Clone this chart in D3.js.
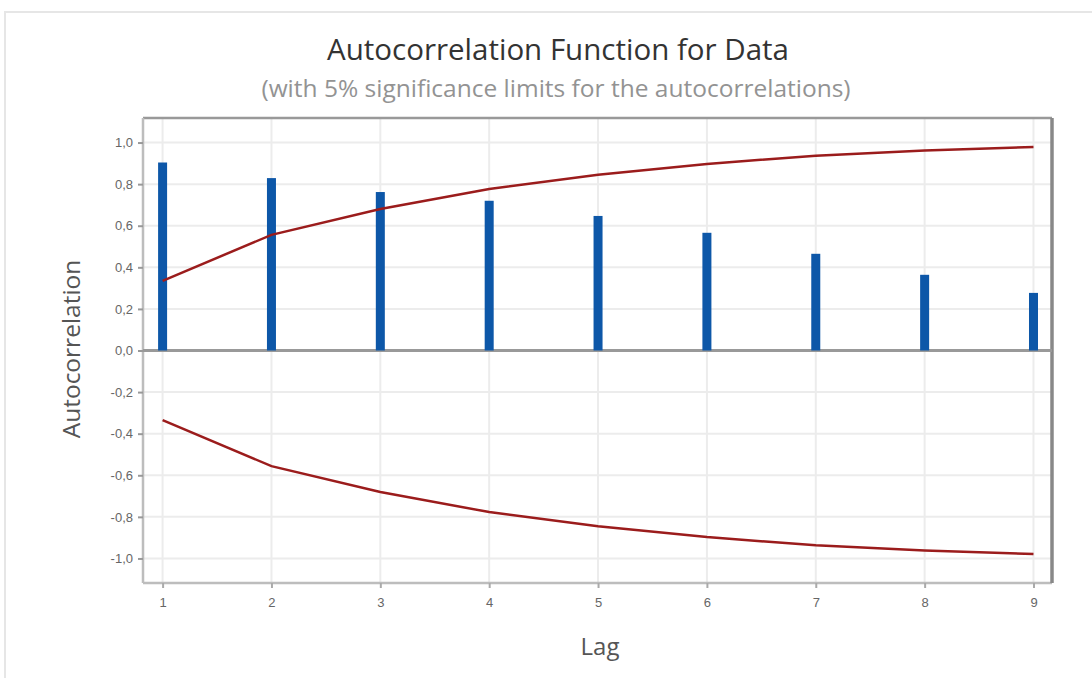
<!DOCTYPE html>
<html>
<head>
<meta charset="utf-8">
<script src="https://cdn.jsdelivr.net/npm/d3@7"></script>
<style>
  body { margin: 0; background: #fff; }
  svg { display: block; font-family: "Open Sans", "Noto Sans", sans-serif; }
</style>
</head>
<body>
<div id="acf"></div>
<script>
'use strict'

// lags and autocorrelations
const lags = [1, 2, 3, 4, 5, 6, 7, 8, 9];
const acf = [0.904, 0.829, 0.762, 0.72, 0.647, 0.566, 0.465, 0.364, 0.277];
// upper 5% significance limit (lower one is the negative)
const limits = [0.335, 0.556, 0.68, 0.777, 0.845, 0.897, 0.937, 0.962, 0.979];
const yTicks = [-1.0, -0.8, -0.6, -0.4, -0.2, 0.0, 0.2, 0.4, 0.6, 0.8, 1.0];

const width = 1092, height = 678;
const margin = { top: 118, right: 40, bottom: 95, left: 143 };
const w = width - margin.left - margin.right;
const h = height - margin.top - margin.bottom;

const svg = d3.select('#acf').append('svg')
  .attr('width', width)
  .attr('height', height);

// outer panel border
svg.append('rect')
  .attr('x', 5).attr('y', 12)
  .attr('width', width + 10).attr('height', height + 10)
  .attr('fill', 'none')
  .attr('stroke', '#e6e6e6')
  .attr('stroke-width', 2);

const x = d3.scaleLinear().domain([0.82, 9.17]).range([0, w]);
const y = d3.scaleLinear().domain([-1.118, 1.118]).range([h, 0]);

const g = svg.append('g').attr('transform', `translate(${margin.left},${margin.top})`);

// grid
g.append('g').selectAll('line')
  .data(yTicks.filter(d => d !== 0))
  .join('line')
  .attr('x1', 0).attr('x2', w)
  .attr('y1', d => y(d)).attr('y2', d => y(d))
  .attr('stroke', '#ececec').attr('stroke-width', 2);

g.append('g').selectAll('line')
  .data(lags)
  .join('line')
  .attr('x1', d => x(d)).attr('x2', d => x(d))
  .attr('y1', 0).attr('y2', h)
  .attr('stroke', '#ececec').attr('stroke-width', 2);

// frame
g.append('line').attr('x1', 0).attr('x2', w).attr('y1', 0).attr('y2', 0)
  .attr('stroke', '#999').attr('stroke-width', 2.5);
g.append('line').attr('x1', 0).attr('x2', w).attr('y1', h).attr('y2', h)
  .attr('stroke', '#bdbdbd').attr('stroke-width', 2.5);
g.append('line').attr('x1', 0).attr('x2', 0).attr('y1', 0).attr('y2', h)
  .attr('stroke', '#bdbdbd').attr('stroke-width', 2.5);
g.append('line').attr('x1', w).attr('x2', w).attr('y1', 0).attr('y2', h)
  .attr('stroke', '#888').attr('stroke-width', 3.5);

// axes
const fmt = d => d3.format('.1f')(d).replace('.', ',').replace('−', '-');

const yAxis = g.append('g')
  .call(d3.axisLeft(y).tickValues(yTicks).tickSize(5).tickPadding(5).tickFormat(fmt));
yAxis.select('.domain').remove();
yAxis.selectAll('line').attr('stroke', '#999').attr('stroke-width', 2);
yAxis.selectAll('text').attr('fill', '#666').attr('font-size', 13);

const xAxis = g.append('g')
  .attr('transform', `translate(0,${h})`)
  .call(d3.axisBottom(x).tickValues(lags).tickSize(5).tickPadding(10).tickFormat(d3.format('d')));
xAxis.select('.domain').remove();
xAxis.selectAll('line').attr('stroke', '#aaa').attr('stroke-width', 2);
xAxis.selectAll('text').attr('fill', '#666').attr('font-size', 13);

// zero line
g.append('line')
  .attr('x1', 0).attr('x2', w)
  .attr('y1', y(0)).attr('y2', y(0))
  .attr('stroke', '#999').attr('stroke-width', 3);

// bars
g.append('g').selectAll('rect')
  .data(lags)
  .join('rect')
  .attr('x', (d, i) => x(d) - 4.5)
  .attr('width', 9)
  .attr('y', (d, i) => y(acf[i]))
  .attr('height', (d, i) => y(0) - y(acf[i]))
  .attr('fill', '#0d57a8');

// significance limits
const line = d3.line()
  .x((d, i) => x(lags[i]))
  .y(d => y(d));

g.append('path')
  .datum(limits)
  .attr('d', line)
  .attr('fill', 'none')
  .attr('stroke', '#9b1c1c')
  .attr('stroke-width', 2.5);

g.append('path')
  .datum(limits.map(d => -d))
  .attr('d', line)
  .attr('fill', 'none')
  .attr('stroke', '#9b1c1c')
  .attr('stroke-width', 2.5);

// titles
svg.append('text')
  .attr('x', 558).attr('y', 60)
  .attr('text-anchor', 'middle')
  .attr('font-size', 29.5)
  .attr('fill', '#333')
  .text('Autocorrelation Function for Data');

svg.append('text')
  .attr('x', 556).attr('y', 97)
  .attr('text-anchor', 'middle')
  .attr('font-size', 24.5)
  .attr('fill', '#939393')
  .text('(with 5% significance limits for the autocorrelations)');

svg.append('text')
  .attr('transform', `translate(80,349) rotate(-90)`)
  .attr('text-anchor', 'middle')
  .attr('font-size', 24.5)
  .attr('fill', '#555')
  .text('Autocorrelation');

svg.append('text')
  .attr('x', 600).attr('y', 655)
  .attr('text-anchor', 'middle')
  .attr('font-size', 24)
  .attr('fill', '#555')
  .text('Lag');
</script>
</body>
</html>
